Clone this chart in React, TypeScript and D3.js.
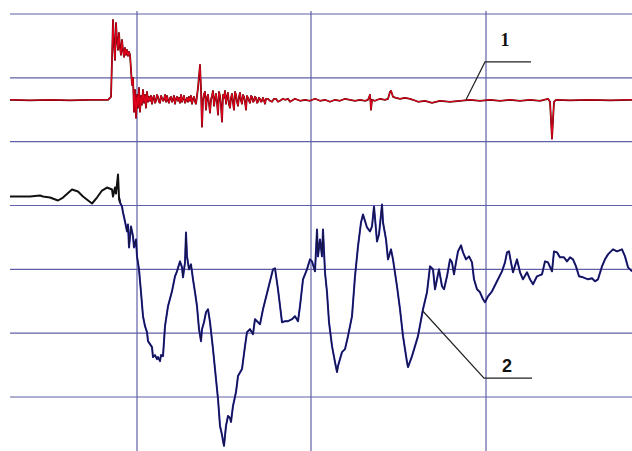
import React, { useRef, useEffect } from "react";
import * as d3 from "d3";

const gridX = [127, 301, 476];
const gridY = [-192, -128, -64, 0, 64, 128, 192];

const ch1Offset = 106;
// channel 1 (red) deviation from its offset
const ch1: [number, number][] = [
  [0, 0], [20, -0.5], [40, 0], [60, -0.5], [80, 0], [98, 0], [101, 3], [102, 40], [103, 80], [104, 55],
  [105, 40], [106, 77], [107, 60], [108, 50], [109, 67], [110, 52], [111, 45], [112, 60], [113, 50], [114, 43],
  [115, 52], [116, 45], [117, 50], [118, 44], [119, 48], [120, 45], [121, 30], [122, 15], [123, 22], [124, -12],
  [125, 10], [126, -18], [127, 5], [128, -8], [129, 12], [130, -12], [131, 4], [132, -5], [133, 10], [134, -3],
  [135, 5], [136, -8], [137, 8], [138, -2], [139, 3], [140, -1], [141, 4], [142, -4], [143, 2], [144, 4],
  [145, -3], [146, -1], [147, 5], [148, 3], [149, -2], [150, -3], [151, 4], [152, 2], [153, -1], [154, 0],
  [155, 5], [156, -2], [157, 4], [158, -1], [159, -3], [160, 2], [161, 3], [162, -2], [163, 0], [164, 4],
  [165, -4], [166, 1], [167, 3], [168, -1], [169, 2], [170, -3], [171, 5], [172, -2], [173, 1], [174, 4],
  [175, -3], [176, -1], [177, 2], [178, -2], [179, 3], [180, -1], [181, 4], [182, -4], [183, 1], [184, 3],
  [185, -2], [186, -4], [188, 12], [190, 35],
  [191, 10], [192, -27], [193, 0], [194, 6], [195, 8], [196, -10], [197, 2], [198, 5], [199, -4], [200, -13],
  [201, 0], [202, 4], [203, 9], [204, -6], [205, 1], [206, 6], [207, -3], [208, -15], [209, 8], [210, 4],
  [211, -6], [212, -22], [213, 5], [214, 2], [215, 9], [216, -4], [217, 3], [218, 7], [219, -5], [220, -8],
  [221, 2], [222, 6], [223, -3], [224, -10], [225, 8], [226, 5], [227, -2], [228, -6], [229, 3], [230, 7],
  [231, -1], [232, -4], [233, 5], [234, 3], [235, -2], [236, -10], [237, 4], [238, 2], [239, -1], [240, -3],
  [241, 4], [242, 3], [243, -2], [244, -1], [245, 3], [246, 2], [247, -3], [248, -2], [249, 2], [250, 1],
  [251, -2], [252, -1], [253, 2], [255, -4], [256, 1], [258, 1], [260, -1], [262, -2], [264, 1], [266, 1],
  [268, -2], [270, -1], [273, 1], [275, 0], [278, 1], [280, -2],
  [285, 1], [290, -1], [295, 0], [300, -1], [305, 1], [310, -1], [315, 0], [320, -2], [325, 0], [330, -1],
  [335, 1], [340, 0], [345, -1], [350, 0], [355, -1], [358, 0], [360, 5], [361, -10], [362, 0], [365, -1],
  [370, 1], [375, 0], [378, 1], [380, 8], [381, 9], [383, 3], [386, 2], [390, 1], [395, 2], [400, 1],
  [403, 0], [408, -2], [415, -1], [422, -3], [430, -1], [440, -2], [450, -1], [460, 0], [470, -1], [480, 0],
  [490, -1], [500, 0], [510, -1], [520, 0], [530, -1], [538, 1], [540, -2], [541, -20], [542, -39], [543, -20],
  [544, -2], [546, 0], [560, -0.5], [580, 0], [600, -0.5], [622, 0],
];

// channel 2, pre-trigger part (black)
const ch2Pre: [number, number][] = [
  [0, 9], [20, 9], [30, 10], [33, 9], [40, 8], [48, 5], [53, 8], [62, 16], [68, 14], [73, 9],
  [82, 2], [87, 8], [92, 15], [97, 18], [102, 16], [103, 9], [105, 18], [106, 12], [108, 31], [109, 8], [110, 3],
];

// channel 2 (blue)
const ch2: [number, number][] = [
  [109, 8], [110, 3], [112, -1], [113, -7], [115, -16], [117, -26], [118, -19], [119, -42], [121, -21], [123, -31],
  [124, -42], [126, -34], [127, -51], [129, -64], [131, -87], [133, -111], [135, -121], [137, -127], [138, -136], [142, -142],
  [143, -152], [145, -150], [147, -154], [148, -152], [150, -156], [151, -150], [153, -151], [155, -121], [158, -101], [162, -86], [165, -71], [167, -66],
  [170, -56], [172, -62], [173, -72], [175, -57], [176, -27], [177, -51], [179, -64], [181, -59], [183, -74], [185, -87],
  [187, -101], [189, -124], [191, -136], [192, -124], [194, -117], [196, -107], [198, -104], [200, -117], [203, -144], [206, -174],
  [208, -194], [210, -221], [212, -230], [213, -236], [214, -241], [216, -221], [218, -211], [220, -213], [221, -217], [223, -201], [226, -187], [228, -171],
  [232, -164], [235, -141], [237, -127], [240, -124], [243, -129], [245, -114], [248, -117], [250, -119], [253, -104], [258, -84],
  [263, -64], [265, -63], [268, -84], [272, -117], [275, -116], [278, -116], [282, -114], [285, -111], [288, -116], [290, -101],
  [293, -74], [297, -64], [300, -54], [302, -56], [305, -66], [307, -24], [308, -51], [310, -34], [312, -51], [313, -24],
  [315, -67], [317, -87], [319, -117], [322, -141], [325, -157], [327, -167], [328, -161], [332, -147], [335, -144], [338, -131],
  [342, -111], [345, -71], [348, -41], [351, -17], [353, -9], [357, -22], [360, -26], [362, -21], [364, -1], [367, -36],
  [369, -29], [372, 1], [373, -17], [376, -34], [378, -54], [381, -44], [383, -54], [387, -81], [390, -104], [393, -131],
  [397, -157], [398, -162], [402, -151], [405, -141], [408, -131], [413, -104], [417, -87], [420, -61], [423, -64], [425, -84],
  [427, -74], [429, -64], [432, -81], [434, -84], [437, -71], [440, -54], [442, -57], [444, -69], [446, -57], [448, -46],
  [451, -40], [453, -47], [456, -54], [459, -51], [462, -57], [464, -74], [467, -84], [470, -87], [473, -94], [475, -97],
  [478, -91], [482, -86], [487, -76], [492, -66], [495, -57], [497, -47], [499, -46], [501, -57], [503, -67], [507, -54],
  [510, -67], [513, -74], [517, -67], [520, -74], [523, -79], [527, -71], [532, -69], [535, -56], [538, -57], [542, -66],
  [544, -46], [547, -47], [550, -52], [554, -52], [557, -56], [560, -52], [563, -54], [566, -61], [569, -71], [573, -72],
  [578, -74], [582, -73], [585, -76], [588, -74], [592, -61], [595, -54], [598, -49], [603, -44], [607, -46], [612, -44],
  [615, -51], [618, -62], [622, -66],
];

// callouts: [sample, level] of the leader line points
const callout1: [number, number][] = [[456, 106], [475, 144], [521, 144]];
const callout2: [number, number][] = [[413, -106], [474, -173], [522, -173]];
const labels = [
  { text: "1", at: [495, 166] as [number, number], font: "'Liberation Serif', serif" },
  { text: "2", at: [497, -161] as [number, number], font: "'Liberation Sans', Arial, sans-serif" },
];

export default function App() {
  const ref = useRef<SVGSVGElement>(null);
  const width = 632;
  const height = 451;

  useEffect(() => {
    document.body.style.margin = "0";
    const svg = d3.select(ref.current);
    svg.selectAll("*").remove();

    const x = d3.scaleLinear().domain([0, 622]).range([10, 632]);
    const y = d3.scaleLinear().domain([-192, 192]).range([397, 14]);

    svg.append("rect").attr("width", width).attr("height", height).attr("fill", "#fff");

    const grid = svg.append("g").attr("stroke", "#6060a8").attr("stroke-width", 1.2);
    grid.selectAll("line.h")
      .data(gridY)
      .enter()
      .append("line")
      .attr("x1", x(0)).attr("x2", x(622))
      .attr("y1", d => y(d)).attr("y2", d => y(d));
    grid.selectAll("line.v")
      .data(gridX)
      .enter()
      .append("line")
      .attr("x1", d => x(d)).attr("x2", d => x(d))
      .attr("y1", y(192) - 3).attr("y2", height);

    const line = d3.line<[number, number]>().x(d => x(d[0])).y(d => y(d[1]));
    const line1 = d3.line<[number, number]>().x(d => x(d[0])).y(d => y(d[1] + ch1Offset));

    // channel 1
    svg.append("path").attr("d", line1(ch1)).attr("fill", "none")
      .attr("stroke", "#4a0808").attr("stroke-width", 1.8).attr("stroke-linejoin", "round");
    svg.append("path").attr("d", line1(ch1)).attr("fill", "none")
      .attr("stroke", "#e5001c").attr("stroke-width", 1.1).attr("stroke-linejoin", "round");

    // channel 2
    svg.append("path").attr("d", line(ch2)).attr("fill", "none")
      .attr("stroke", "#2828b8").attr("stroke-width", 2).attr("stroke-linejoin", "round");
    svg.append("path").attr("d", line(ch2)).attr("fill", "none")
      .attr("stroke", "#15153f").attr("stroke-width", 1.2).attr("stroke-linejoin", "round");
    svg.append("path").attr("d", line(ch2Pre)).attr("fill", "none")
      .attr("stroke", "#111").attr("stroke-width", 2).attr("stroke-linejoin", "round");

    // callouts
    [callout1, callout2].forEach(c => {
      svg.append("path").attr("d", line(c)).attr("fill", "none")
        .attr("stroke", "#222").attr("stroke-width", 1.2);
    });
    svg.selectAll("text.lbl")
      .data(labels)
      .enter()
      .append("text")
      .attr("x", d => x(d.at[0]))
      .attr("y", d => y(d.at[1]))
      .attr("text-anchor", "middle")
      .attr("dominant-baseline", "central")
      .attr("font-family", d => d.font)
      .attr("font-size", 18)
      .attr("font-weight", "bold")
      .attr("fill", "#111")
      .text(d => d.text);
  }, []);

  return <svg ref={ref} width={width} height={height} style={{ display: "block" }} />;
}
